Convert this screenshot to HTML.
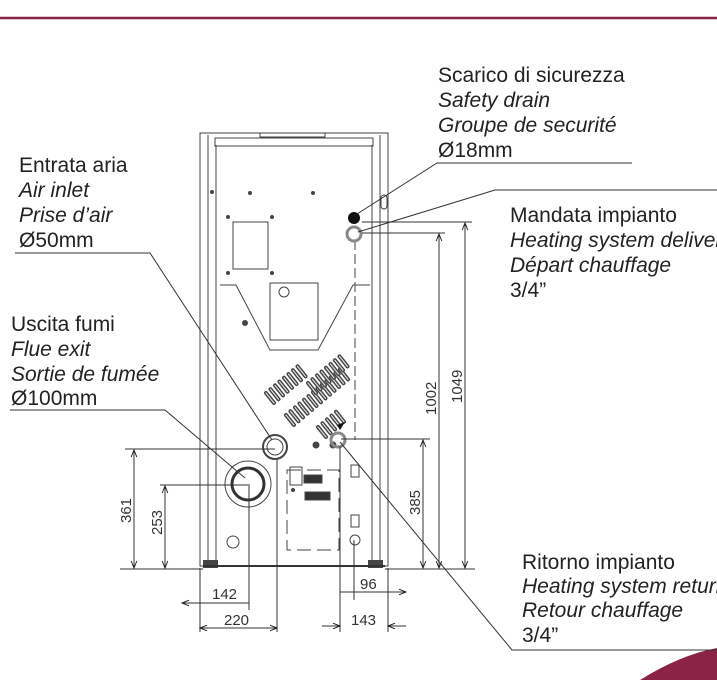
<!DOCTYPE html>
<html><head><meta charset="utf-8"><style>
body{margin:0;background:#fff;width:717px;height:680px;overflow:hidden}
svg{display:block}
text{font-family:"Liberation Sans",sans-serif;font-size:21px;fill:#222}
.i{font-style:italic}
.d{font-size:15px;fill:#333}
</style></head><body>
<svg width="717" height="680" viewBox="0 0 717 680" xmlns="http://www.w3.org/2000/svg">
<defs><marker id="a" viewBox="0 0 10 10" refX="10" refY="5" markerWidth="9" markerHeight="7" orient="auto-start-reverse"><path d="M0,1 L10,5 L0,9" fill="none" stroke="#222" stroke-width="1.4"/></marker>
<g id="s"><line x1="-4" y1="-5" x2="4" y2="5" stroke="#444" stroke-width="4" stroke-linecap="round"/><line x1="-4" y1="-5" x2="4" y2="5" stroke="#ddd" stroke-width="1.2" stroke-linecap="round"/></g></defs>
<line x1="0" y1="18" x2="717" y2="18" stroke="#8b2346" stroke-width="2.5"/>
<path d="M640,680 Q680,655 717,648 L717,680 Z" fill="#8b2346"/>
<g fill="none" stroke="#444" stroke-width="1">
<rect x="200" y="133" width="188" height="433"/>
<line x1="208" y1="135" x2="208" y2="562"/><line x1="380" y1="135" x2="380" y2="562"/>
<line x1="216" y1="145" x2="216" y2="562"/><line x1="372" y1="145" x2="372" y2="562"/>
<rect x="215" y="138" width="158" height="8"/>
<rect x="260" y="133" width="65" height="4"/>
<rect x="233" y="222" width="35" height="47"/>
<rect x="270" y="283" width="48" height="57"/>
<path d="M220,285 L236,285 L270,350 L318,350 L353,285 L370,285"/>
<circle cx="284" cy="292" r="5"/>
<rect x="287" y="470" width="52" height="80" stroke-dasharray="14,6"/>
<rect x="290" y="467" width="12" height="18"/>
<rect x="304" y="475" width="18" height="8" fill="#333"/>
<rect x="305" y="492" width="25" height="8" fill="#333"/>
<rect x="351" y="465" width="8" height="12"/><rect x="351" y="515" width="8" height="12"/><circle cx="355" cy="540" r="5"/>
<circle cx="233" cy="542" r="6"/>
<line x1="355" y1="240" x2="355" y2="440" stroke-dasharray="10,4"/>
</g>
<g>
<use href="#s" x="270" y="398"/><use href="#s" x="274.5" y="394.2"/><use href="#s" x="279" y="390.4"/><use href="#s" x="283.5" y="386.6"/><use href="#s" x="288" y="382.8"/><use href="#s" x="292.5" y="379"/><use href="#s" x="297" y="375.2"/><use href="#s" x="301.5" y="371.4"/>
<use href="#s" x="290" y="420"/><use href="#s" x="294.5" y="416.2"/><use href="#s" x="299" y="412.4"/><use href="#s" x="303.5" y="408.6"/><use href="#s" x="308" y="404.8"/><use href="#s" x="312.5" y="401"/><use href="#s" x="317" y="397.2"/><use href="#s" x="321.5" y="393.4"/><use href="#s" x="326" y="389.6"/><use href="#s" x="330.5" y="385.8"/><use href="#s" x="335" y="382"/><use href="#s" x="339.5" y="378.2"/><use href="#s" x="344" y="374.4"/>
<use href="#s" x="312" y="388"/><use href="#s" x="316.5" y="384.2"/><use href="#s" x="321" y="380.4"/><use href="#s" x="325.5" y="376.6"/><use href="#s" x="330" y="372.8"/><use href="#s" x="334.5" y="369"/><use href="#s" x="339" y="365.2"/><use href="#s" x="343.5" y="361.4"/>
<use href="#s" x="322" y="432"/><use href="#s" x="326.5" y="428.2"/><use href="#s" x="331" y="424.4"/><use href="#s" x="335.5" y="420.6"/><use href="#s" x="340" y="416.8"/>
</g>
<g fill="#444"><circle cx="212" cy="192" r="2"/><circle cx="250" cy="193" r="2"/><circle cx="313" cy="193" r="2"/><circle cx="228" cy="217" r="2"/><circle cx="272" cy="217" r="2"/><circle cx="228" cy="273" r="2"/><circle cx="272" cy="273" r="2"/><circle cx="245" cy="323" r="3"/><circle cx="293" cy="490" r="2"/><circle cx="316" cy="445" r="3.5"/><circle cx="333" cy="445" r="3.5"/></g>
<circle cx="354" cy="218" r="6" fill="#111"/>
<circle cx="354" cy="234" r="7" fill="none" stroke="#888" stroke-width="3"/>
<rect x="381" y="195" width="6" height="14" rx="3" fill="none" stroke="#444"/>
<circle cx="275" cy="447" r="12" fill="none" stroke="#444" stroke-width="2"/><circle cx="275" cy="447" r="8" fill="none" stroke="#444"/>
<circle cx="248" cy="484" r="23" fill="none" stroke="#444"/><circle cx="248" cy="484" r="16" fill="none" stroke="#333" stroke-width="3"/>
<circle cx="338" cy="440" r="7" fill="none" stroke="#888" stroke-width="3"/>
<path d="M337,425 l8,-3 l-5,8z" fill="#111"/>
<g fill="#444"><rect x="203" y="560" width="15" height="8"/><rect x="368" y="560" width="15" height="8"/></g>
<line x1="203" y1="566" x2="385" y2="566" stroke="#333" stroke-width="2"/>
<g stroke="#333" stroke-width="1" fill="none">
<line x1="125" y1="449" x2="275" y2="449"/><line x1="160" y1="485" x2="248" y2="485"/>
<line x1="120" y1="569" x2="203" y2="569"/><line x1="385" y1="569" x2="475" y2="569"/>
<line x1="134" y1="450" x2="134" y2="568" marker-start="url(#a)" marker-end="url(#a)"/>
<line x1="165" y1="486" x2="165" y2="568" marker-start="url(#a)" marker-end="url(#a)"/>
<line x1="200" y1="568" x2="200" y2="632"/><line x1="249" y1="484" x2="249" y2="610"/><line x1="277" y1="460" x2="277" y2="632"/>
<line x1="340" y1="446" x2="340" y2="632"/><line x1="354" y1="540" x2="354" y2="600"/><line x1="388" y1="568" x2="388" y2="632"/>
<line x1="182" y1="603" x2="249" y2="603" marker-start="url(#a)"/>
<line x1="200" y1="628" x2="277" y2="628" marker-start="url(#a)" marker-end="url(#a)"/>
<line x1="340" y1="592" x2="406" y2="592" marker-end="url(#a)"/>
<line x1="322" y1="626" x2="340" y2="626" marker-end="url(#a)"/><line x1="388" y1="626" x2="406" y2="626" marker-start="url(#a)"/>
<line x1="341" y1="439" x2="430" y2="439"/><line x1="362" y1="233" x2="445" y2="233"/><line x1="362" y1="222" x2="472" y2="222"/>
<line x1="423" y1="440" x2="423" y2="568" marker-start="url(#a)" marker-end="url(#a)"/>
<line x1="439" y1="234" x2="439" y2="568" marker-start="url(#a)" marker-end="url(#a)"/>
<line x1="465" y1="223" x2="465" y2="568" marker-start="url(#a)" marker-end="url(#a)"/>
<polyline points="15,253 150,253 272,440"/>
<polyline points="10,410 165,410 245,478"/>
<polyline points="632,163 437,163 357,214"/>
<polyline points="717,190 495,190 358,232"/>
<polyline points="717,650 512,650 340,442"/>
</g>
<text class="d" transform="translate(131,523) rotate(-90)">361</text>
<text class="d" transform="translate(162,535) rotate(-90)">253</text>
<text class="d" transform="translate(420,515) rotate(-90)">385</text>
<text class="d" transform="translate(436,415) rotate(-90)">1002</text>
<text class="d" transform="translate(462,403) rotate(-90)">1049</text>
<text class="d" x="212" y="599">142</text><text class="d" x="224" y="625">220</text>
<text class="d" x="360" y="589">96</text><text class="d" x="351" y="625">143</text>
<text x="438" y="82">Scarico di sicurezza</text><text class="i" x="438" y="107">Safety drain</text><text class="i" x="438" y="132">Groupe de securité</text><text x="438" y="157">Ø18mm</text>
<text x="19" y="172">Entrata aria</text><text class="i" x="19" y="197">Air inlet</text><text class="i" x="19" y="222">Prise d’air</text><text x="19" y="247">Ø50mm</text>
<text x="510" y="222">Mandata impianto</text><text class="i" x="510" y="247">Heating system delivery</text><text class="i" x="510" y="272">Départ chauffage</text><text x="510" y="297">3/4”</text>
<text x="11" y="331">Uscita fumi</text><text class="i" x="11" y="356">Flue exit</text><text class="i" x="11" y="381">Sortie de fumée</text><text x="11" y="405">Ø100mm</text>
<text x="522" y="569">Ritorno impianto</text><text class="i" x="522" y="593">Heating system return</text><text class="i" x="522" y="617">Retour chauffage</text><text x="522" y="642">3/4”</text>
</svg>
</body></html>
